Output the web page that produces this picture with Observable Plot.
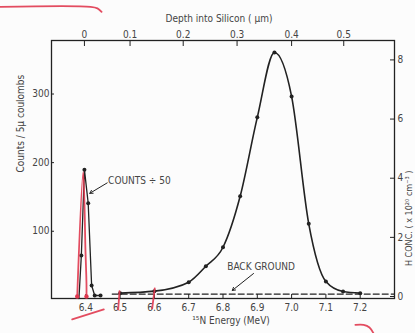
<!DOCTYPE html>
<html><head><meta charset="utf-8">
<script src="https://cdn.jsdelivr.net/npm/d3@7"></script>
<script src="https://cdn.jsdelivr.net/npm/@observablehq/plot@0.6"></script>
<style>
html,body{margin:0;padding:0;background:#fcfcfc;}
#chart svg{display:block;}
</style>
</head><body><div id="chart"></div>
<script>
// ---- tick labels / axes ----
const energyTicks = [6.4, 6.5, 6.6, 6.7, 6.8, 6.9, 7.0, 7.1, 7.2];
const countTicks = [100, 200, 300];
const hTicks = [0, 2, 4, 6, 8];
const hZeroCounts = 4.9;     // counts level of H = 0 on right axis
const countsPerH = 43.1;     // counts per 1e20 cm^-3
const depthLabels = ["0", "0.1", "0.2", "0.3", "0.4", "0.5"];
const depthEnergies = [6.396, 6.529, 6.684, 6.841, 7.000, 7.152];

// ---- main resonance curve (H profile) ----
const mainEnergy = [6.50, 6.60, 6.70, 6.75, 6.80, 6.85, 6.90, 6.95, 7.00, 7.05, 7.10, 7.15, 7.20];
const mainCounts = [9.8, 12.7, 25.8, 49, 76.7, 151, 266, 360.5, 296.5, 110.8, 26.8, 12.2, 9.8];

// ---- narrow surface peak (counts / 50) ----
const peakEnergy = [6.380, 6.387, 6.396, 6.407, 6.417, 6.426, 6.443];
const peakCounts = [2, 64.6, 189.8, 140.8, 21, 6.4, 6.4];

// ---- background level ----
const bgEnergy = [6.477, 7.30];
const bgCounts = [8.5, 8.5];

// ---- red hand annotations ----
const redPeakEnergy = [6.375, 6.3924, 6.399, 6.402, 6.402];
const redPeakCounts = [5, 186, 72.5, 23.4, 4];
const redDotEnergy = [6.375, 6.402];
const redDotCounts = [5, 5];
const redTick1Energy = [6.4983, 6.4945];
const redTick1Counts = [12.7, -14.0];
const redTick2Energy = [6.601, 6.5936];
const redTick2Counts = [16.6, -12.5];
const redSlashEnergy = [6.3603, 6.4525];
const redSlashCounts = [-28.5, -14.0];
const redTopEnergy = [6.151, 6.414, 6.434, 6.446];
const redTopCounts = [427.1, 427.1, 424.9, 419.8];
const redCornerEnergy = [7.186, 7.210, 7.227, 7.239];
const redCornerCounts = [-36.5, -36.5, -40.2, -48.9];

// ---- annotation text ----
const countsNote = {text: "COUNTS ÷ 50", e: 6.465, c: 174};
const countsArrow = {e1: 6.4624, c1: 170.5, e2: 6.4117, c2: 155.3};
const bgNote = {text: "BACK GROUND", e: 6.911, c: 48.5};
const bgArrow = {e1: 6.889, c1: 38.4, e2: 6.827, c2: 13.7};

const pts = (E, C) => E.map((e, i) => ({e, c: C[i]}));
const main = pts(mainEnergy, mainCounts);
const peak = pts(peakEnergy, peakCounts);
const bg = pts(bgEnergy, bgCounts);
const redLines = [
  ...pts(redPeakEnergy, redPeakCounts).map(d => ({...d, k: "peak"})),
  ...pts(redTick1Energy, redTick1Counts).map(d => ({...d, k: "t1"})),
  ...pts(redTick2Energy, redTick2Counts).map(d => ({...d, k: "t2"})),
  ...pts(redSlashEnergy, redSlashCounts).map(d => ({...d, k: "slash"})),
  ...pts(redTopEnergy, redTopCounts).map(d => ({...d, k: "top"})),
  ...pts(redCornerEnergy, redCornerCounts).map(d => ({...d, k: "corner"}))
];
const redDots = pts(redDotEnergy, redDotCounts);

const INK = "#222";
const TXT = "#444";
const RED = "#e0384f";

const chart = Plot.plot({
  width: 415,
  height: 333,
  marginLeft: 51,
  marginRight: 21,
  marginTop: 40,
  marginBottom: 35,
  x: {domain: [6.3, 7.3]},
  y: {domain: [2, 378]},
  style: {
    fontFamily: "'DejaVu Sans Condensed', 'DejaVu Sans', sans-serif",
    fontStretch: "condensed",
    fontSize: "10px",
    background: "#fcfcfc",
    color: TXT
  },
  marks: [
    Plot.frame({stroke: INK, strokeWidth: 1.3}),
    Plot.axisX(energyTicks, {anchor: "bottom", tickFormat: d => d.toFixed(1), tickSize: -4, tickPadding: 9, label: null, stroke: INK, fill: TXT}),
    Plot.axisX(depthEnergies, {anchor: "top", tickFormat: d => depthLabels[depthEnergies.indexOf(d)], tickSize: -5, tickPadding: 7.5, label: null, stroke: INK, fill: TXT}),
    Plot.axisY(countTicks, {anchor: "left", tickSize: -3, tickPadding: 5, label: null, stroke: INK, fill: TXT}),
    Plot.axisY(hTicks.map(h => hZeroCounts + h * countsPerH), {anchor: "right", tickFormat: c => String(Math.round((c - hZeroCounts) / countsPerH)), tickSize: -5, tickPadding: 8, label: null, stroke: INK, fill: TXT}),
    // background dashed line
    Plot.line(bg, {x: "e", y: "c", stroke: INK, strokeWidth: 1.2, strokeDasharray: "6,3"}),
    // main curve
    Plot.line(main, {x: "e", y: "c", curve: "monotone-x", stroke: INK, strokeWidth: 1.6}),
    Plot.dot(main, {x: "e", y: "c", r: 2, fill: INK}),
    // narrow peak
    Plot.line(peak, {x: "e", y: "c", stroke: INK, strokeWidth: 1.3}),
    Plot.dot(peak.slice(1), {x: "e", y: "c", r: 2, fill: INK}),
    // red annotations
    Plot.line(redLines, {x: "e", y: "c", z: "k", curve: "catmull-rom", stroke: RED, strokeWidth: 1.8, strokeOpacity: 0.9}),
    Plot.dot(redDots, {x: "e", y: "c", r: 2.2, fill: RED}),
    // annotation texts and arrows
    Plot.text([countsNote], {x: "e", y: "c", text: "text", textAnchor: "start", fill: TXT}),
    Plot.arrow([countsArrow], {x1: "e1", y1: "c1", x2: "e2", y2: "c2", stroke: INK, strokeWidth: 1, headLength: 5}),
    Plot.text([bgNote], {x: "e", y: "c", text: "text", fill: TXT}),
    Plot.arrow([bgArrow], {x1: "e1", y1: "c1", x2: "e2", y2: "c2", stroke: INK, strokeWidth: 1, headLength: 5}),
    // axis titles
    Plot.text(["Depth into Silicon ( µm)"], {frameAnchor: "top", dy: -26, dx: -4, fill: TXT}),
    Plot.text(["¹⁵N Energy (MeV)"], {frameAnchor: "bottom", dy: 25, dx: 8, fill: TXT}),
    Plot.text(["Counts / 5µ coulombs"], {frameAnchor: "left", dx: -31, dy: 3, rotate: -90, fill: TXT}),
    Plot.text(["H CONC. ( x 10²⁰ cm⁻³ )"], {frameAnchor: "right", dx: 15, dy: 1, rotate: -90, fontSize: 9, fill: TXT})
  ]
});
document.getElementById("chart").appendChild(chart);
</script></body></html>
